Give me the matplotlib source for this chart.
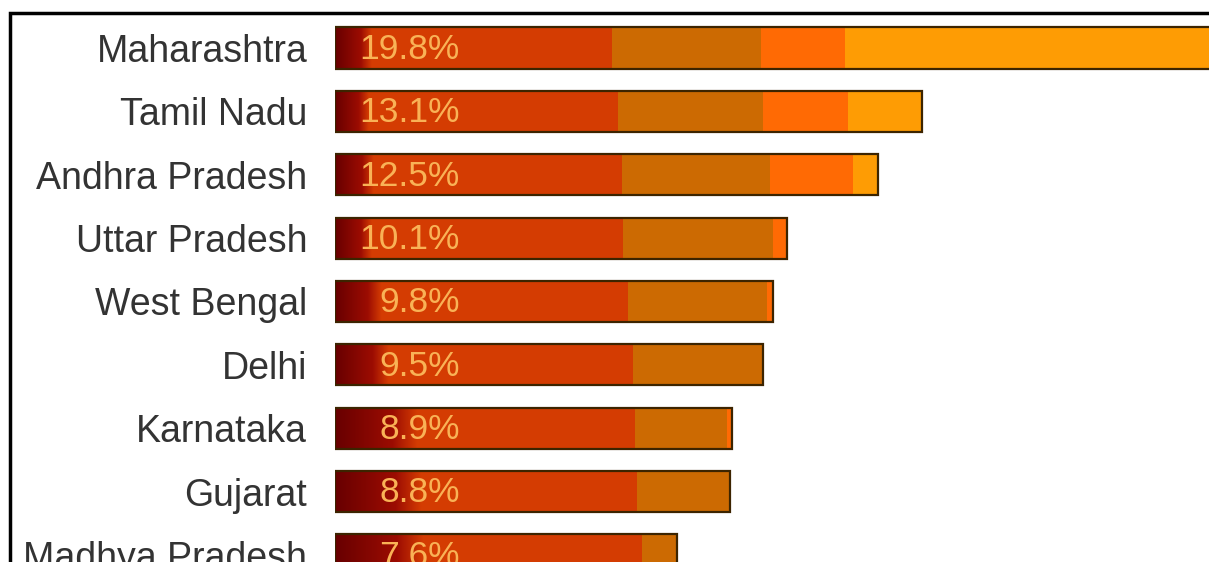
import numpy as np
import matplotlib
matplotlib.use("Agg")
import matplotlib.pyplot as plt
import matplotlib.colors as mcolors
from matplotlib.patches import Rectangle

plt.rcParams['font.family'] = ['Liberation Sans', 'DejaVu Sans']

states = ['Maharashtra', 'Tamil Nadu', 'Andhra Pradesh', 'Uttar Pradesh', 'West Bengal',
          'Delhi', 'Karnataka', 'Gujarat', 'Madhya Pradesh']
pct_labels = [19.8, 13.1, 12.5, 10.1, 9.8, 9.5, 8.9, 8.8, 7.6]

# stacked segments (same units as the percentages)
seg_dark = [0.51, 0.45, 0.56, 0.51, 0.74, 0.90, 1.55, 1.63, 1.67]
seg_red = [5.67, 5.87, 5.85, 5.92, 5.80, 5.75, 5.15, 5.11, 5.18]
seg_brown = [3.33, 3.23, 3.30, 3.35, 3.10, 2.90, 2.05, 2.08, 0.78]
seg_orange = [1.87, 1.90, 1.85, 0.31, 0.14, 0.0, 0.11, 0.0, 0.0]
seg_light = [8.42, 1.65, 0.56, 0.0, 0.0, 0.0, 0.0, 0.0, 0.0]

segments = [seg_dark, seg_red, seg_brown, seg_orange, seg_light]
colors = ['#8c0a02', '#d43c02', '#cc6a02', '#ff6a04', '#fe9c04']

W, H = 1209, 562
fig = plt.figure(figsize=(W / 100, H / 100), dpi=100)
fig.patch.set_facecolor('white')

ax = fig.add_axes([335 / W, 0, 1 - 335 / W, 1])
y = np.arange(len(states))
bar_h = 0.65

left = np.zeros(len(states))
for vals, c in zip(segments, colors):
    vals = np.array(vals)
    ax.barh(y, vals, left=left, height=bar_h, color=c, edgecolor='none')
    left += vals

# soft shading of the dark part into the red part
grad_cmap = mcolors.LinearSegmentedColormap.from_list(
    'dk', [(0, '#680000'), (0.7, '#9c0c02'), (1, '#d43c02')])
grad = np.linspace(0, 1, 64).reshape(1, -1)
for yi, d in zip(y, seg_dark):
    ax.imshow(grad, cmap=grad_cmap, aspect='auto', interpolation='bilinear',
              extent=(0, d + 0.3, yi + bar_h / 2, yi - bar_h / 2), zorder=1.5)

# outline around each whole bar
ax.barh(y, left, height=bar_h, color='none', edgecolor='#3c2400', linewidth=1.6, zorder=2)

for yi, p in zip(y, pct_labels):
    ax.text(2.79, yi + 0.02, f'{p}%', ha='right', va='center', fontsize=25.5,
            color='#f9b256', zorder=3)

scale = 44.8  # px per unit
ax.set_xlim(0, (W - 335) / scale)
pitch = 63.4
ax.set_ylim(8 + (H - 555) / pitch, -48 / pitch)
ax.set_yticks(y)
ax.set_yticklabels(states, fontsize=27, color='#333333')
ax.tick_params(axis='y', length=0, pad=20)
ax.set_xticks([])
for s in ax.spines.values():
    s.set_visible(False)
ax.patch.set_alpha(0)

# frame of the screenshot
fig.add_artist(Rectangle((9.5 / W, -0.1), 1.2, 1.1 - 12.5 / H, transform=fig.transFigure,
                         fill=False, edgecolor='black', linewidth=2.5, clip_on=False))

fig.savefig('out.png', dpi=100)
